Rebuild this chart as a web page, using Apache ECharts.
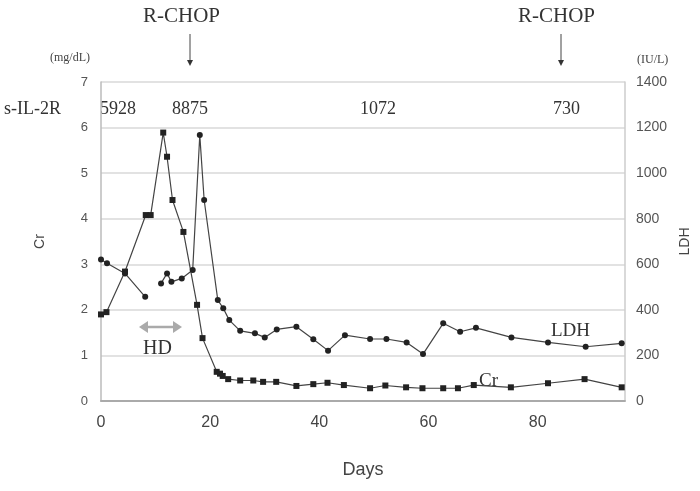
<!DOCTYPE html>
<html>
<head>
<meta charset="utf-8">
<script src="https://cdn.jsdelivr.net/npm/echarts@6/dist/echarts.min.js"></script>
<style>html,body{margin:0;padding:0;background:#fff}#c{width:700px;height:491px}</style>
</head>
<body>
<div id="c"></div>
<script>
// Cr (mg/dL) — left axis
var crDays   = [0, 1, 4.4, 8.2, 9.1, 11.4, 12.1, 13.1, 15.1, 17.6, 18.6, 21.2, 21.8, 22.3, 23.3, 25.5, 27.9, 29.7, 32.1, 35.8, 38.9, 41.5, 44.5, 49.3, 52.1, 55.9, 58.9, 62.7, 65.4, 68.3, 75.1, 81.9, 88.6, 95.4];
var crValues = [1.9, 1.95, 2.84, 4.08, 4.08, 5.89, 5.36, 4.41, 3.71, 2.11, 1.38, 0.64, 0.6, 0.55, 0.48, 0.45, 0.45, 0.42, 0.42, 0.33, 0.37, 0.40, 0.35, 0.28, 0.34, 0.30, 0.28, 0.28, 0.28, 0.35, 0.30, 0.39, 0.48, 0.30];
// LDH (IU/L) — right axis; null = break in the line
var ldhDays   = [0, 1.1, 4.4, 8.1, 9.6, 11.0, 12.1, 12.9, 14.8, 16.8, 18.1, 18.9, 21.4, 22.4, 23.5, 25.5, 28.2, 30.0, 32.2, 35.8, 38.9, 41.6, 44.7, 49.3, 52.3, 56.0, 59.0, 62.7, 65.8, 68.7, 75.2, 81.9, 88.8, 95.4];
var ldhValues = [621, 605, 560, 457, null, 516, 560, 523, 538, 575, 1167, 882, 443, 407, 355, 308, 297, 279, 314, 326, 271, 221, 289, 272, 272, 257, 206, 341, 304, 321, 279, 257, 238, 253];
// s-IL-2R values shown across the top
var sil2rLabels = ['5928', '8875', '1072', '730'];
var xTicks = [0, 20, 40, 60, 80];

var crData = crDays.map(function (d, i) { return [d, crValues[i]]; });
var ldhData = ldhDays.map(function (d, i) { return [d, ldhValues[i] === null ? '-' : ldhValues[i]]; });

var serif = '"Liberation Serif", "DejaVu Serif", serif';
var sans = '"Liberation Sans", Arial, sans-serif';
var chart = echarts.init(document.getElementById('c'));

function arrowDown(x, y1, y2) {
  return [
    { type: 'line', shape: { x1: x, y1: y1, x2: x, y2: y2 - 4 }, style: { stroke: '#444', lineWidth: 1 } },
    { type: 'polygon', shape: { points: [[x - 3, y2 - 6], [x + 3, y2 - 6], [x, y2]] }, style: { fill: '#333' } }
  ];
}
var silX = [100, 172, 360, 553];
var g = [];
g.push({ type: 'text', left: 143, top: 6, style: { text: 'R-CHOP', font: '21px ' + serif, fill: '#333' } });
g.push({ type: 'text', left: 518, top: 6, style: { text: 'R-CHOP', font: '21px ' + serif, fill: '#333' } });
g = g.concat(arrowDown(190, 34, 66));
g = g.concat(arrowDown(561, 34, 66));
g.push({ type: 'text', left: 50, top: 52, style: { text: '(mg/dL)', font: '12px ' + serif, fill: '#444' } });
g.push({ type: 'text', left: 637, top: 54, style: { text: '(IU/L)', font: '12px ' + serif, fill: '#444' } });
g.push({ type: 'text', left: 4, top: 100, style: { text: 's-IL-2R', font: '18px ' + serif, fill: '#333' } });
sil2rLabels.forEach(function (t, i) {
  g.push({ type: 'text', left: silX[i], top: 100, style: { text: t, font: '18px ' + serif, fill: '#333' } });
});
// HD double arrow
g.push({ type: 'line', shape: { x1: 145, y1: 327, x2: 176, y2: 327 }, style: { stroke: '#aaa', lineWidth: 2.5 } });
g.push({ type: 'polygon', shape: { points: [[139, 327], [148, 321], [148, 333]] }, style: { fill: '#aaa' } });
g.push({ type: 'polygon', shape: { points: [[182, 327], [173, 321], [173, 333]] }, style: { fill: '#aaa' } });
g.push({ type: 'text', left: 143, top: 339, style: { text: 'HD', font: '20px ' + serif, fill: '#333' } });
g.push({ type: 'text', left: 551, top: 322, style: { text: 'LDH', font: '19px ' + serif, fill: '#333' } });
g.push({ type: 'text', left: 479, top: 372, style: { text: 'Cr', font: '19px ' + serif, fill: '#333' } });

chart.setOption({
  animation: false,
  backgroundColor: '#fff',
  grid: { left: 101, right: 74, top: 82, bottom: 90 },
  xAxis: {
    type: 'value', min: 0, max: 96, interval: 20,
    name: 'Days', nameLocation: 'middle', nameGap: 60,
    nameTextStyle: { fontFamily: sans, fontSize: 18, color: '#444' },
    axisLine: { show: true, lineStyle: { color: '#aaa', width: 2 } },
    axisTick: { show: false },
    splitLine: { show: false },
    axisLabel: {
      fontFamily: sans, fontSize: 16, color: '#444', margin: 14,
      formatter: function (v) { return xTicks.indexOf(v) >= 0 ? String(v) : ''; }
    }
  },
  yAxis: [
    {
      type: 'value', min: 0, max: 7, interval: 1, position: 'left',
      name: 'Cr', nameLocation: 'middle', nameGap: 54, nameRotate: 90,
      nameTextStyle: { fontFamily: sans, fontSize: 14, color: '#444' },
      axisLine: { show: true, lineStyle: { color: '#bbb', width: 1.5 } },
      axisTick: { show: false },
      splitLine: { show: true, lineStyle: { color: '#d8d8d8', width: 1.5 } },
      axisLabel: { fontFamily: sans, fontSize: 13, color: '#555', margin: 13 }
    },
    {
      type: 'value', min: 0, max: 1400, interval: 200, position: 'right',
      name: 'LDH', nameLocation: 'middle', nameGap: 52, nameRotate: 90,
      nameTextStyle: { fontFamily: sans, fontSize: 14, color: '#444' },
      axisLine: { show: true, lineStyle: { color: '#ccc', width: 1.5 } },
      axisTick: { show: false },
      splitLine: { show: false },
      axisLabel: { fontFamily: sans, fontSize: 14, color: '#555', margin: 11,
        formatter: function (v) { return String(v); } }
    }
  ],
  series: [
    {
      name: 'Cr', type: 'line', yAxisIndex: 0, data: crData,
      symbol: 'rect', symbolSize: 6,
      itemStyle: { color: '#222' },
      lineStyle: { color: '#444', width: 1.2 }
    },
    {
      name: 'LDH', type: 'line', yAxisIndex: 1, data: ldhData, connectNulls: false,
      symbol: 'circle', symbolSize: 6,
      itemStyle: { color: '#222' },
      lineStyle: { color: '#444', width: 1.2 }
    }
  ],
  graphic: g
});
</script>
</body>
</html>
